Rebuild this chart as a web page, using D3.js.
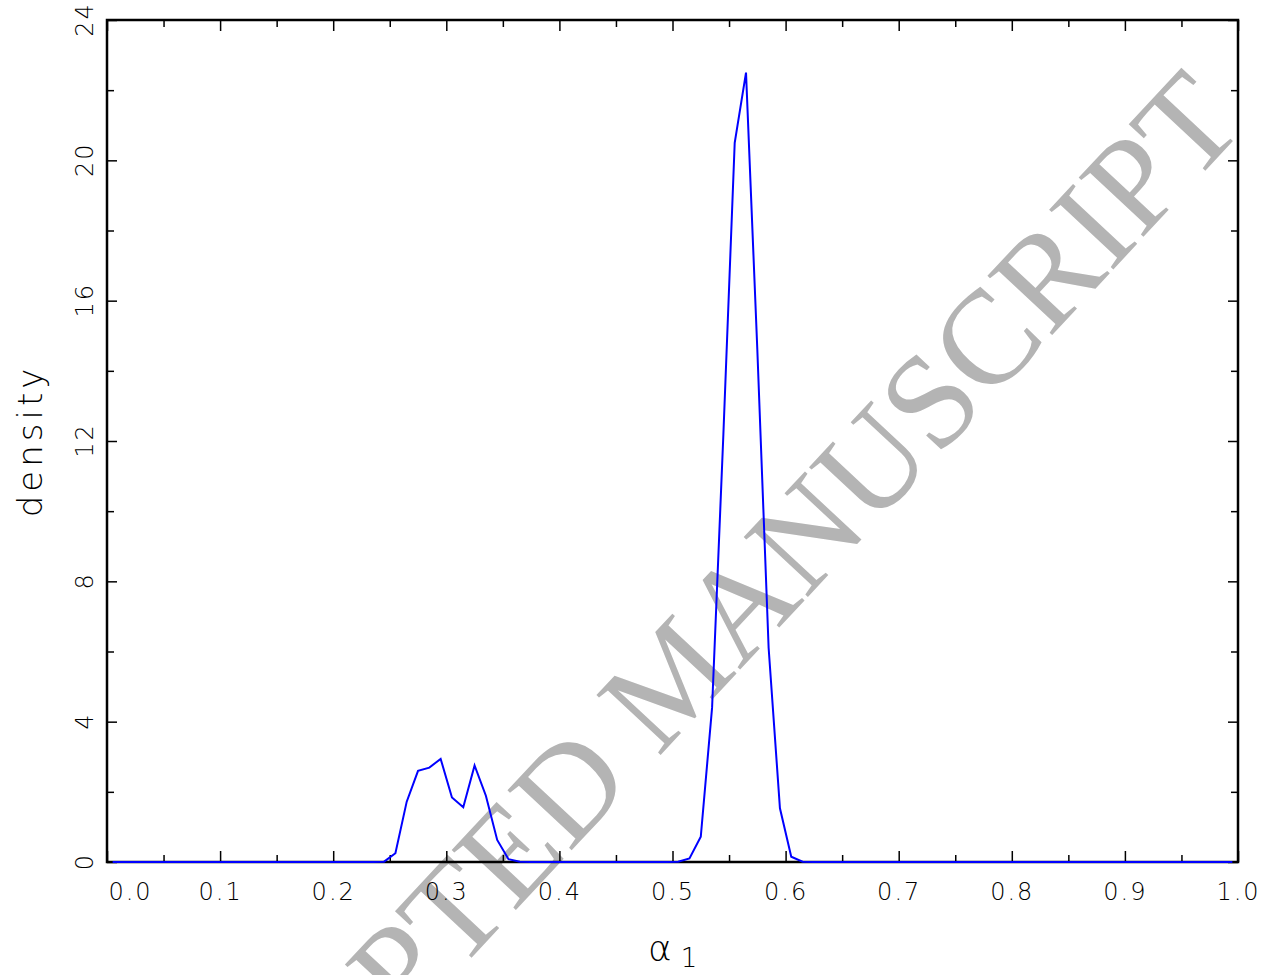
<!DOCTYPE html>
<html>
<head>
<meta charset="utf-8">
<script src="https://cdn.jsdelivr.net/npm/d3@7"></script>
<style>
  body { margin: 0; background: #fff; }
  svg { display: block; }
  .tick text { font-family: 'DejaVu Sans', sans-serif; font-weight: 200; font-size: 24px; letter-spacing: 2px; fill: #000; }
</style>
</head>
<body>
<div id="container"></div>
<script>
const w = 1266,
  h = 975;
const x0 = 107,
  x1 = 1238,
  y0 = 862,
  y1 = 20;

// kernel density of alpha_1, evaluated at bin midpoints 0.005 ... 0.995
const binMids = d3.range(100).map((i) => 0.005 + i * 0.01);
const density = [
  0, 0, 0, 0, 0, 0, 0, 0, 0, 0,
  0, 0, 0, 0, 0, 0, 0, 0, 0, 0,
  0, 0, 0, 0, 0.01, 0.25, 1.72, 2.6, 2.69, 2.94,
  1.84, 1.56, 2.75, 1.89, 0.63, 0.08, 0.01, 0, 0, 0,
  0, 0, 0, 0, 0, 0, 0, 0, 0, 0,
  0.01, 0.1, 0.72, 4.4, 12.2, 20.5, 22.5, 14.6, 6.1, 1.53,
  0.15, 0.01, 0, 0, 0, 0, 0, 0, 0, 0,
  0, 0, 0, 0, 0, 0, 0, 0, 0, 0,
  0, 0, 0, 0, 0, 0, 0, 0, 0, 0,
  0, 0, 0, 0, 0, 0, 0, 0, 0, 0
];

const xMajor = [0, 0.1, 0.2, 0.3, 0.4, 0.5, 0.6, 0.7, 0.8, 0.9, 1.0];
const xMinor = [0.05, 0.15, 0.25, 0.35, 0.45, 0.55, 0.65, 0.75, 0.85, 0.95];
const yMajor = [0, 4, 8, 12, 16, 20, 24];
const yMinor = [2, 6, 10, 14, 18, 22];

const svg = d3.select('#container').append('svg').attr('width', w).attr('height', h);

const xScale = d3.scaleLinear().domain([0, 1]).range([x0, x1]);
const yScale = d3.scaleLinear().domain([0, 24]).range([y0, y1]);

// watermark sits under the plot
svg
  .append('text')
  .text('ACCEPTED MANUSCRIPT')
  .attr('transform', 'translate(1247, 126) rotate(-47)')
  .attr('text-anchor', 'end')
  .attr('font-family', "'Liberation Serif', 'Times New Roman', serif")
  .attr('font-size', 134)
  .attr('fill', '#b4b4b4');

function inward(g) {
  g.select('.domain').remove();
  g.selectAll('.tick line').attr('stroke', '#000').attr('stroke-width', 1.5);
}

// bottom / top
svg
  .append('g')
  .attr('transform', 'translate(0,' + y0 + ')')
  .call(d3.axisBottom(xScale).tickValues(xMajor).tickSize(-11).tickPadding(21).tickFormat(d3.format('.1f')))
  .call(inward)
  .call((g) => g.selectAll('.tick text').attr('dx', (d) => (d === 0 ? 23 : 0)));
svg
  .append('g')
  .attr('transform', 'translate(0,' + y0 + ')')
  .call(d3.axisBottom(xScale).tickValues(xMinor).tickSize(-7).tickFormat(''))
  .call(inward);
svg
  .append('g')
  .attr('transform', 'translate(0,' + y1 + ')')
  .call(d3.axisTop(xScale).tickValues(xMajor).tickSize(-11).tickFormat(''))
  .call(inward);
svg
  .append('g')
  .attr('transform', 'translate(0,' + y1 + ')')
  .call(d3.axisTop(xScale).tickValues(xMinor).tickSize(-7).tickFormat(''))
  .call(inward);

// left / right
svg
  .append('g')
  .attr('transform', 'translate(' + x0 + ',0)')
  .call(d3.axisLeft(yScale).tickValues(yMajor).tickSize(-10).tickFormat(d3.format('d')))
  .call(inward)
  .call((g) =>
    g
      .selectAll('.tick text')
      .attr('transform', 'rotate(-90)')
      .attr('x', 0)
      .attr('y', -14)
      .attr('dy', 0)
      .attr('dx', 1)
      .attr('text-anchor', 'middle')
  );
svg
  .append('g')
  .attr('transform', 'translate(' + x0 + ',0)')
  .call(d3.axisLeft(yScale).tickValues(yMinor).tickSize(-7).tickFormat(''))
  .call(inward);
svg
  .append('g')
  .attr('transform', 'translate(' + x1 + ',0)')
  .call(d3.axisRight(yScale).tickValues(yMajor).tickSize(-10).tickFormat(''))
  .call(inward);
svg
  .append('g')
  .attr('transform', 'translate(' + x1 + ',0)')
  .call(d3.axisRight(yScale).tickValues(yMinor).tickSize(-7).tickFormat(''))
  .call(inward);

// frame
svg
  .append('rect')
  .attr('x', x0)
  .attr('y', y1)
  .attr('width', x1 - x0)
  .attr('height', y0 - y1)
  .attr('fill', 'none')
  .attr('stroke', '#000')
  .attr('stroke-width', 2.5);

// density curve
const line = d3
  .line()
  .x((d, i) => xScale(binMids[i]))
  .y((d) => yScale(d));
svg
  .append('path')
  .datum(density)
  .attr('d', line)
  .attr('fill', 'none')
  .attr('stroke', '#0000ff')
  .attr('stroke-width', 2)
  .attr('stroke-linejoin', 'miter');

// axis titles
svg
  .append('text')
  .text('density')
  .attr('transform', 'translate(42, 441) rotate(-90)')
  .attr('text-anchor', 'middle')
  .attr('font-family', "'DejaVu Sans', sans-serif")
  .attr('font-weight', 200)
  .attr('font-size', 34)
  .attr('letter-spacing', 4);

const xTitle = svg
  .append('text')
  .attr('x', 648)
  .attr('y', 961)
  .attr('font-family', "'DejaVu Sans', sans-serif")
  .attr('font-weight', 200)
  .attr('font-size', 36);
xTitle.append('tspan').text('α');
xTitle
  .append('tspan')
  .text('1')
  .attr('dx', 9)
  .attr('dy', 6)
  .attr('font-size', 26);
</script>
</body>
</html>
